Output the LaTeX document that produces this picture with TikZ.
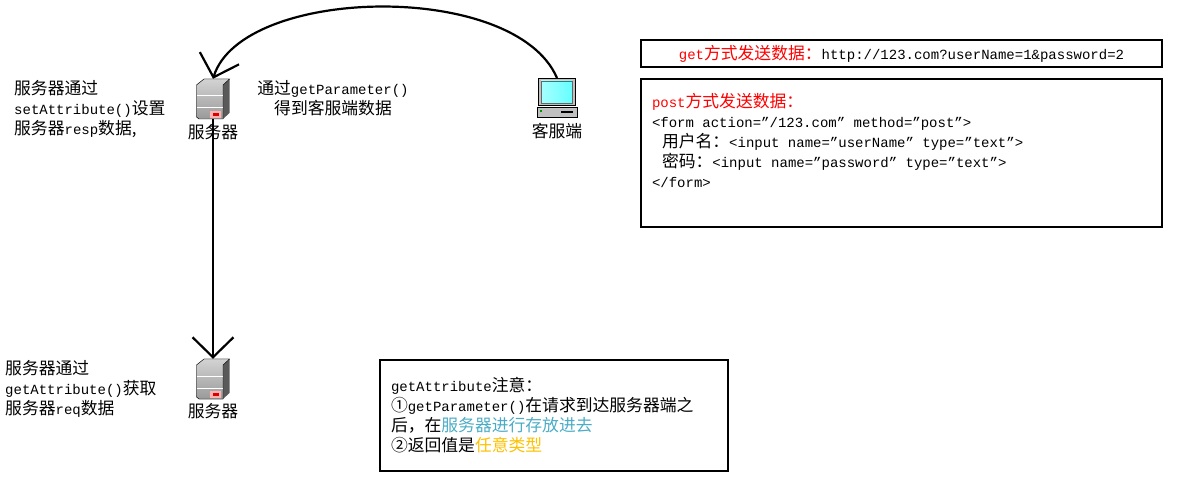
\documentclass[tikz,border=0pt]{standalone}
\usepackage{fontspec}
\setmainfont{Liberation Mono}
\newfontfamily\cjk{Noto Sans CJK SC}
\usetikzlibrary{arrows.meta}
\newcommand{\zh}[1]{{\cjk\fontsize{16.8}{20}\selectfont #1}}
\definecolor{noteblue}{RGB}{75,172,198}
\definecolor{noteamber}{RGB}{255,192,0}
\definecolor{casegray}{RGB}{192,192,192}
\definecolor{casedark}{RGB}{90,90,90}
\tikzstyle{plain} = [inner sep=0pt, font=\fontsize{14}{20}\selectfont, align=left]
\tikzstyle{frame} = [rectangle, draw=black, line width=1.8pt, inner sep=0pt, minimum width=521pt, font=\fontsize{14}{20}\selectfont]
\tikzstyle{icon} = [rectangle, inner sep=0pt, minimum width=33pt, minimum height=40pt]
\tikzstyle{arrow} = [line width=2.2pt,-{Straight Barb[length=20pt,width=41pt,line width=2.2pt]}]
\tikzset{
  servericon/.pic={
    \fill[casedark] (10,-16) -- (16.5,-20) -- (16.5,14) -- (10,20) -- cycle;
    \fill[top color=casegray!70, bottom color=casegray!80!black, draw=black, line width=.4pt]
      (-16.5,-14) -- (-9,-20) -- (16.5,-20) -- (10,-14) -- (10,20) -- (-14,20) -- (-16.5,18) -- cycle;
    \draw[white, line width=1pt] (-16,-3) -- (9.5,-3) (-16,9) -- (9.5,9);
    \fill[red!30] (-3,12) rectangle (8,19);
    \fill[red!85!black] (0,14) rectangle (6,17);
  },
  clienticon/.pic={
    \fill[casegray, draw=black, line width=.4pt] (-18.5,-26) rectangle (18.5,1);
    \shade[left color=cyan!35, right color=cyan!60, draw=black!60] (-16,-23) rectangle (15,-1);
    \fill[casegray, draw=black, line width=.6pt] (-20,3) rectangle (20,13);
    \fill[black] (4,7) rectangle (16,9);
    \fill[green!60!black] (-17,6) rectangle (-15,8);
  }
}
\begin{document}
\begin{tikzpicture}[x=1pt,y=-1pt]
	\useasboundingbox (0,0) rectangle (1189,486);
	% left column
	\node (server) at (213,99) [icon] {};
	\node (serverb) at (213,379) [icon] {};
	\node (client) at (557,78) [icon,anchor=north] {};
	\pic at (server) {servericon};
	\pic at (serverb) {servericon};
	\pic at (557,104) {clienticon};
	\node (serverlabel) at (213,132) [plain] {\zh{服务器}};
	\node (serverblabel) at (213,411) [plain] {\zh{服务器}};
	\node (clientlabel) at (557,131) [plain] {\zh{客服端}};
	\node (setnote) at (14,109) [plain,anchor=west] {\zh{服务器通过}\\setAttribute()\zh{设置}\\\zh{服务器}resp\zh{数据,}};
	\node (getnote) at (5,389) [plain,anchor=west] {\zh{服务器通过}\\getAttribute()\zh{获取}\\\zh{服务器}req\zh{数据}};
	\node (paramnote) at (333,98) [plain,align=center] {\zh{通过}getParameter()\\\zh{得到客服端数据}};
	% boxes
	\node (getbox) at (901.5,53.5) [frame,minimum height=27pt] {\textcolor{red}{get\zh{方式发送数据：}}http://123.com?userName=1\&password=2};
	\node (postbox) at (901.5,153) [frame,minimum height=148pt,text width=499pt,align=left] {\spaceskip=8.4pt\relax\textcolor{red}{post\zh{方式发送数据：}}\\<form action="/123.com" method="post">\\\hspace*{10pt}\zh{用户名：}<input name="userName" type="text">\\\hspace*{10pt}\zh{密码：}<input name="password" type="text">\\</form>\\[6pt]\mbox{}};
	\node (attrbox) at (554,415.5) [frame,minimum width=348pt,minimum height=111pt,text width=326pt,align=left] {getAttribute\zh{注意：}\\\zh{①}getParameter()\zh{在请求到达服务器端之}\\\zh{后，在}\textcolor{noteblue}{\zh{服务器进行存放进去}}\\\zh{②返回值是}\textcolor{noteamber}{\zh{任意类型}}};
	% connectors
	\draw [arrow] (client.north) .. controls (515,-20) and (242,-14) .. (server.north);
	\draw [arrow] (server.south) -- (serverb.north);
\end{tikzpicture}
\end{document}
